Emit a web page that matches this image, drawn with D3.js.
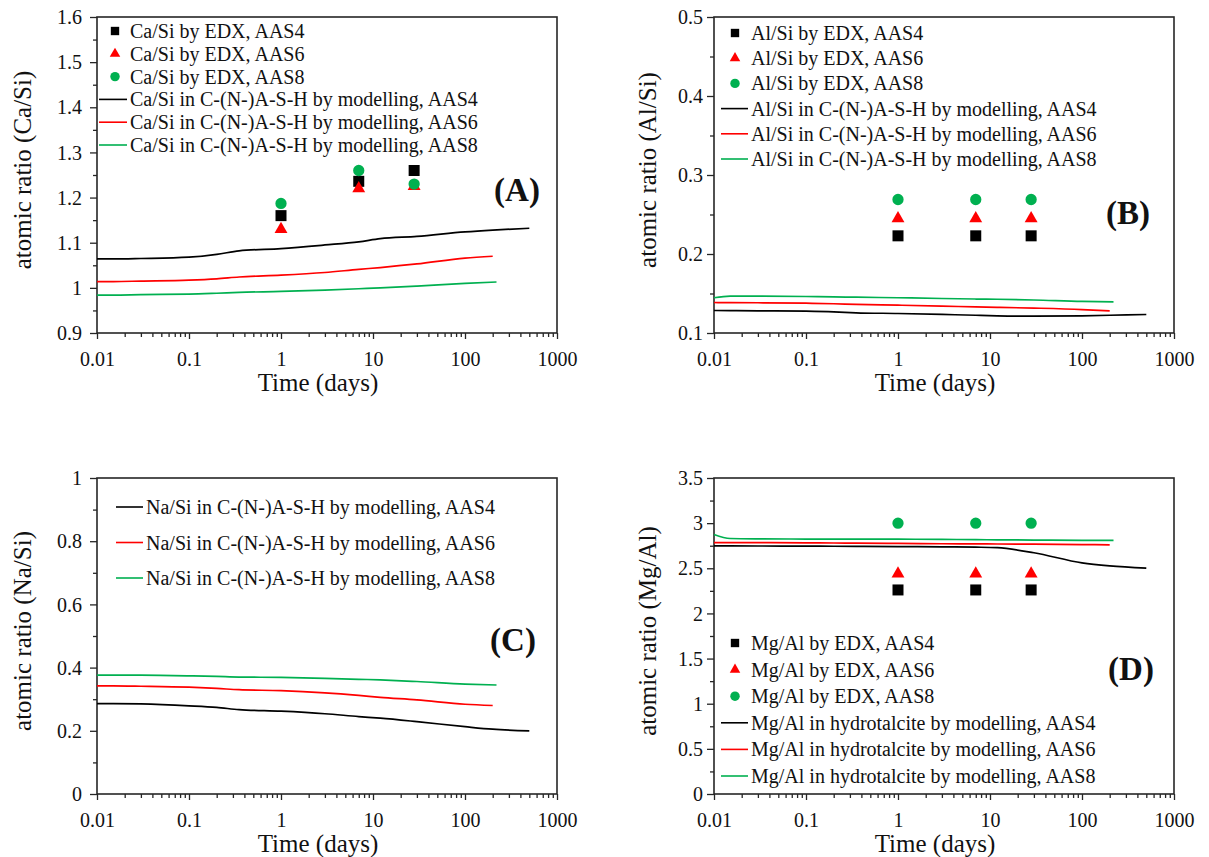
<!DOCTYPE html>
<html>
<head>
<meta charset="utf-8">
<script src="https://cdn.jsdelivr.net/npm/d3@7"></script>
<style>
  body { margin: 0; background: #ffffff; }
  svg { display: block; }
</style>
</head>
<body>
<svg id="chart" width="1209" height="857"></svg>
<script>
// ---------------- data ----------------
const xTickValues = [0.01, 0.1, 1, 10, 100, 1000];
const xTickLabels = ["0.01", "0.1", "1", "10", "100", "1000"];
const edxDays = [1, 7, 28];

const modelTimeAAS4 = [0.01, 0.015, 0.03, 0.1, 0.2, 0.35, 1, 3, 7, 12, 30, 100, 200, 500];
const modelTimeAAS6 = [0.01, 0.015, 0.03, 0.1, 0.2, 0.35, 1, 3, 7, 12, 30, 100, 200];
const modelTimeAAS8 = [0.01, 0.015, 0.03, 0.1, 0.2, 0.35, 1, 3, 7, 12, 30, 100, 220];

// Panel A : Ca/Si
const caSiTicks = [0.9, 1, 1.1, 1.2, 1.3, 1.4, 1.5, 1.6];
const caSiTickLabels = ["0.9", "1", "1.1", "1.2", "1.3", "1.4", "1.5", "1.6"];
const caSiEdxAAS4 = [1.160, 1.236, 1.260];
const caSiEdxAAS6 = [1.130, 1.220, 1.225];
const caSiEdxAAS8 = [1.187, 1.260, 1.230];
const caSiModelAAS4 = [1.064, 1.064, 1.065, 1.068, 1.074, 1.082, 1.087, 1.095, 1.102, 1.109, 1.114, 1.124, 1.128, 1.132];
const caSiModelAAS6 = [1.014, 1.014, 1.015, 1.017, 1.020, 1.024, 1.028, 1.034, 1.041, 1.045, 1.053, 1.066, 1.070];
const caSiModelAAS8 = [0.984, 0.984, 0.985, 0.986, 0.988, 0.990, 0.992, 0.995, 0.998, 1.000, 1.004, 1.010, 1.013];

// Panel B : Al/Si
const alSiTicks = [0.1, 0.2, 0.3, 0.4, 0.5];
const alSiTickLabels = ["0.1", "0.2", "0.3", "0.4", "0.5"];
const alSiEdxAAS4 = [0.223, 0.223, 0.223];
const alSiEdxAAS6 = [0.245, 0.245, 0.245];
const alSiEdxAAS8 = [0.269, 0.269, 0.269];
const alSiModelAAS4 = [0.1285, 0.1284, 0.1281, 0.1276, 0.1268, 0.1256, 0.1247, 0.1235, 0.1225, 0.1218, 0.1213, 0.1218, 0.1225, 0.1234];
const alSiModelAAS6 = [0.1386, 0.1385, 0.1383, 0.1377, 0.1370, 0.1362, 0.1352, 0.1340, 0.1331, 0.1325, 0.1315, 0.1297, 0.1280];
const alSiModelAAS8 = [0.1446, 0.1468, 0.1467, 0.1462, 0.1458, 0.1453, 0.1446, 0.1437, 0.1430, 0.1427, 0.1418, 0.1400, 0.1395];

// Panel C : Na/Si
const naSiTicks = [0, 0.2, 0.4, 0.6, 0.8, 1];
const naSiTickLabels = ["0", "0.2", "0.4", "0.6", "0.8", "1"];
const naSiModelAAS4 = [0.286, 0.286, 0.285, 0.279, 0.274, 0.267, 0.262, 0.254, 0.245, 0.240, 0.229, 0.213, 0.205, 0.200];
const naSiModelAAS6 = [0.342, 0.342, 0.341, 0.338, 0.334, 0.330, 0.327, 0.320, 0.312, 0.306, 0.298, 0.284, 0.280];
const naSiModelAAS8 = [0.376, 0.376, 0.376, 0.374, 0.372, 0.370, 0.369, 0.366, 0.363, 0.361, 0.356, 0.348, 0.345];

// Panel D : Mg/Al
const mgAlTicks = [0, 0.5, 1, 1.5, 2, 2.5, 3, 3.5];
const mgAlTickLabels = ["0", "0.5", "1", "1.5", "2", "2.5", "3", "3.5"];
const mgAlEdxAAS4 = [2.26, 2.26, 2.26];
const mgAlEdxAAS6 = [2.44, 2.44, 2.44];
const mgAlEdxAAS8 = [3.00, 3.00, 3.00];
const mgAlModelAAS4 = [2.748, 2.748, 2.747, 2.745, 2.744, 2.743, 2.741, 2.738, 2.734, 2.728, 2.672, 2.560, 2.527, 2.502];
const mgAlModelAAS6 = [2.785, 2.785, 2.784, 2.782, 2.780, 2.778, 2.775, 2.772, 2.770, 2.769, 2.767, 2.763, 2.760];
const mgAlModelAAS8 = [2.874, 2.830, 2.826, 2.824, 2.823, 2.822, 2.822, 2.820, 2.817, 2.815, 2.813, 2.810, 2.810];

// ---------------- drawing ----------------
const FONT = '"Liberation Serif", "Times New Roman", Times, serif';
const COL = { AAS4: "#000000", AAS6: "#ff0000", AAS8: "#00b050" };
const AXIS_COL = "#262626";
const W = 460, H = 316;
const svg = d3.select("#chart");

const xMinorTicks = [];
for (let e = -2; e < 3; e++) for (let k = 2; k <= 9; k++) xMinorTicks.push(+(k * Math.pow(10, e)).toPrecision(3));

function symbolPath(type, size) {
  const t = type === "square" ? d3.symbolSquare : type === "triangle" ? d3.symbolTriangle : d3.symbolCircle;
  return d3.symbol().type(t).size(size)();
}

function drawPanel(cfg) {
  const g = svg.append("g").attr("transform", `translate(${cfg.left},${cfg.top})`);
  const x = d3.scaleLog().domain([0.01, 1000]).range([0, W]);
  const y = d3.scaleLinear().domain([cfg.yTicks[0], cfg.yTicks[cfg.yTicks.length - 1]]).range([H, 0]);

  const yMinor = [];
  for (let i = 0; i < cfg.yTicks.length - 1; i++) yMinor.push((cfg.yTicks[i] + cfg.yTicks[i + 1]) / 2);

  g.append("g").attr("transform", `translate(0,${H})`)
    .call(d3.axisBottom(x).tickValues(xMinorTicks).tickSize(4).tickFormat(""))
    .call(a => a.select(".domain").remove())
    .call(a => a.selectAll("line").attr("stroke", AXIS_COL).attr("stroke-width", 1.3));
  g.append("g").attr("transform", `translate(0,${H})`)
    .call(d3.axisBottom(x).tickValues(xTickValues).tickSize(6).tickFormat((d, i) => xTickLabels[i]))
    .call(a => a.select(".domain").remove())
    .call(a => a.selectAll("line").attr("stroke", AXIS_COL).attr("stroke-width", 1.3))
    .call(a => a.selectAll("text").attr("y", 33).attr("dy", null)
      .attr("fill", "#111").style("font-family", FONT).style("font-size", "20px"));

  g.append("g")
    .call(d3.axisLeft(y).tickValues(yMinor).tickSize(4).tickFormat(""))
    .call(a => a.select(".domain").remove())
    .call(a => a.selectAll("line").attr("stroke", AXIS_COL).attr("stroke-width", 1.3));
  g.append("g")
    .call(d3.axisLeft(y).tickValues(cfg.yTicks).tickSize(7).tickFormat((d, i) => cfg.yTickLabels[i]))
    .call(a => a.select(".domain").remove())
    .call(a => a.selectAll("line").attr("stroke", AXIS_COL).attr("stroke-width", 1.3))
    .call(a => a.selectAll("text").attr("x", -cfg.labelGap).attr("dy", "0.33em")
      .attr("fill", "#111").style("font-family", FONT).style("font-size", "20px"));

  g.append("rect").attr("x", 0).attr("y", 0).attr("width", W).attr("height", H)
    .attr("fill", "none").attr("stroke", AXIS_COL).attr("stroke-width", 1.6);

  g.append("text").attr("x", W / 2 - 9).attr("y", H + 58).attr("text-anchor", "middle")
    .attr("fill", "#111").style("font-family", FONT).style("font-size", "25px").text("Time (days)");
  g.append("text").attr("transform", `translate(${-cfg.titleGap},${H / 2 - 5}) rotate(-90)`)
    .attr("text-anchor", "middle").attr("fill", "#111")
    .style("font-family", FONT).style("font-size", "25px").text(cfg.yTitle);

  const line = d3.line().x(d => x(d[0])).y(d => y(d[1])).curve(d3.curveMonotoneX);
  cfg.lines.forEach(s => {
    g.append("path").datum(s.t.map((t, i) => [t, s.v[i]]))
      .attr("d", line).attr("fill", "none").attr("stroke", s.color).attr("stroke-width", 1.7);
  });

  const markerSize = { square: 121, triangle: 72, circle: 100 };
  cfg.points.forEach(s => {
    g.append("g").selectAll("path").data(edxDays.map((d, i) => [d, s.v[i]])).join("path")
      .attr("transform", d => `translate(${x(d[0])},${y(d[1])})`)
      .attr("d", symbolPath(s.shape, markerSize[s.shape])).attr("fill", s.color);
  });

  const L = cfg.legend;
  const legendItems = [
    ...cfg.points.map(p => ({ kind: "pt", ...p })),
    ...cfg.lines.map(p => ({ kind: "ln", ...p }))
  ];
  const legendMarker = { square: 70, triangle: 48, circle: 70 };
  legendItems.forEach((it, i) => {
    const ry = L.top + i * L.step;
    if (it.kind === "pt") {
      g.append("path").attr("transform", `translate(${L.sym},${ry})`)
        .attr("d", symbolPath(it.shape, legendMarker[it.shape])).attr("fill", it.color);
    } else {
      g.append("line").attr("x1", L.l1).attr("x2", L.l2).attr("y1", ry).attr("y2", ry)
        .attr("stroke", it.color).attr("stroke-width", 1.6);
    }
    g.append("text").attr("x", L.text).attr("y", ry + 7).attr("fill", "#111")
      .style("font-family", FONT).style("font-size", "20px").text(it.label);
  });

  g.append("text").attr("x", cfg.letter[0]).attr("y", cfg.letter[1] + 11).attr("text-anchor", "middle")
    .attr("fill", "#111").style("font-family", FONT).style("font-size", "33px").style("font-weight", "bold")
    .text(cfg.letterText);
}

drawPanel({
  left: 97, top: 17, yTicks: caSiTicks, yTickLabels: caSiTickLabels,
  yTitle: "atomic ratio (Ca/Si)", labelGap: 15, titleGap: 66,
  points: [
    { shape: "square", color: COL.AAS4, v: caSiEdxAAS4, label: "Ca/Si by EDX, AAS4" },
    { shape: "triangle", color: COL.AAS6, v: caSiEdxAAS6, label: "Ca/Si by EDX, AAS6" },
    { shape: "circle", color: COL.AAS8, v: caSiEdxAAS8, label: "Ca/Si by EDX, AAS8" }
  ],
  lines: [
    { color: COL.AAS4, t: modelTimeAAS4, v: caSiModelAAS4, label: "Ca/Si in C-(N-)A-S-H by modelling, AAS4" },
    { color: COL.AAS6, t: modelTimeAAS6, v: caSiModelAAS6, label: "Ca/Si in C-(N-)A-S-H by modelling, AAS6" },
    { color: COL.AAS8, t: modelTimeAAS8, v: caSiModelAAS8, label: "Ca/Si in C-(N-)A-S-H by modelling, AAS8" }
  ],
  legend: { top: 14, step: 22.8, sym: 18, l1: 2, l2: 30, text: 33 },
  letter: [420, 173], letterText: "(A)"
});

drawPanel({
  left: 714, top: 17, yTicks: alSiTicks, yTickLabels: alSiTickLabels,
  yTitle: "atomic ratio (Al/Si)", labelGap: 11, titleGap: 58,
  points: [
    { shape: "square", color: COL.AAS4, v: alSiEdxAAS4, label: "Al/Si by EDX, AAS4" },
    { shape: "triangle", color: COL.AAS6, v: alSiEdxAAS6, label: "Al/Si by EDX, AAS6" },
    { shape: "circle", color: COL.AAS8, v: alSiEdxAAS8, label: "Al/Si by EDX, AAS8" }
  ],
  lines: [
    { color: COL.AAS4, t: modelTimeAAS4, v: alSiModelAAS4, label: "Al/Si in C-(N-)A-S-H by modelling, AAS4" },
    { color: COL.AAS6, t: modelTimeAAS6, v: alSiModelAAS6, label: "Al/Si in C-(N-)A-S-H by modelling, AAS6" },
    { color: COL.AAS8, t: modelTimeAAS8, v: alSiModelAAS8, label: "Al/Si in C-(N-)A-S-H by modelling, AAS8" }
  ],
  legend: { top: 16, step: 25.2, sym: 21, l1: 7, l2: 34, text: 37 },
  letter: [414, 196], letterText: "(B)"
});

drawPanel({
  left: 97, top: 478, yTicks: naSiTicks, yTickLabels: naSiTickLabels,
  yTitle: "atomic ratio (Na/Si)", labelGap: 15, titleGap: 66,
  points: [],
  lines: [
    { color: COL.AAS4, t: modelTimeAAS4, v: naSiModelAAS4, label: "Na/Si in C-(N-)A-S-H by modelling, AAS4" },
    { color: COL.AAS6, t: modelTimeAAS6, v: naSiModelAAS6, label: "Na/Si in C-(N-)A-S-H by modelling, AAS6" },
    { color: COL.AAS8, t: modelTimeAAS8, v: naSiModelAAS8, label: "Na/Si in C-(N-)A-S-H by modelling, AAS8" }
  ],
  legend: { top: 29, step: 35.5, sym: 32, l1: 19, l2: 46, text: 49 },
  letter: [416, 162], letterText: "(C)"
});

drawPanel({
  left: 714, top: 478, yTicks: mgAlTicks, yTickLabels: mgAlTickLabels,
  yTitle: "atomic ratio (Mg/Al)", labelGap: 11, titleGap: 58,
  points: [
    { shape: "square", color: COL.AAS4, v: mgAlEdxAAS4, label: "Mg/Al by EDX, AAS4" },
    { shape: "triangle", color: COL.AAS6, v: mgAlEdxAAS6, label: "Mg/Al by EDX, AAS6" },
    { shape: "circle", color: COL.AAS8, v: mgAlEdxAAS8, label: "Mg/Al by EDX, AAS8" }
  ],
  lines: [
    { color: COL.AAS4, t: modelTimeAAS4, v: mgAlModelAAS4, label: "Mg/Al in hydrotalcite by modelling, AAS4" },
    { color: COL.AAS6, t: modelTimeAAS6, v: mgAlModelAAS6, label: "Mg/Al in hydrotalcite by modelling, AAS6" },
    { color: COL.AAS8, t: modelTimeAAS8, v: mgAlModelAAS8, label: "Mg/Al in hydrotalcite by modelling, AAS8" }
  ],
  legend: { top: 165, step: 26.6, sym: 21, l1: 7, l2: 34, text: 37 },
  letter: [417, 191], letterText: "(D)"
});
</script>
</body>
</html>
